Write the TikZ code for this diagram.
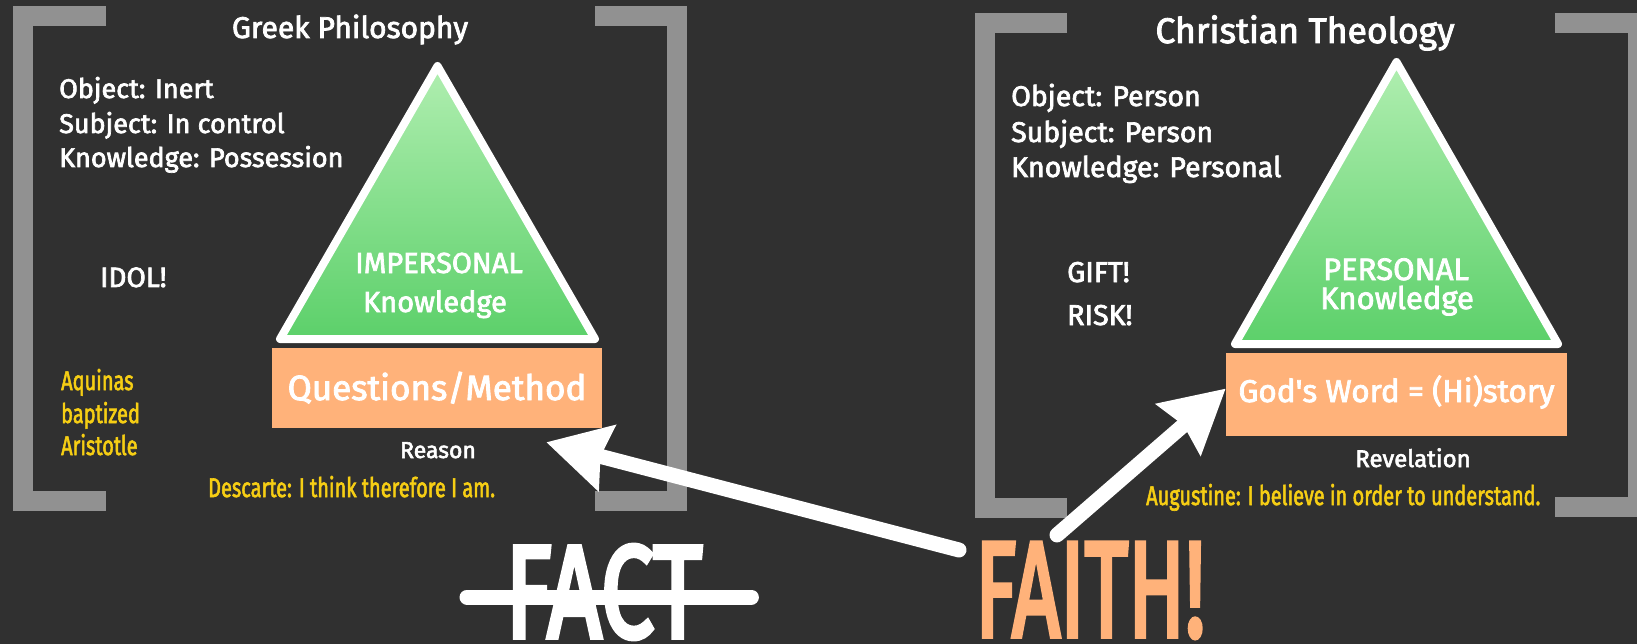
\documentclass[tikz,border=0pt]{standalone}
\usepackage{graphicx}
\usepackage{fontspec}
\setmainfont{Fira Sans}[FakeBold=2.5]
\newfontfamily\chalkfont{Fira Sans}[FakeBold=4]
\usetikzlibrary{arrows.meta}
\newcommand{\fsz}[1]{\fontsize{#1}{#1}\selectfont}
\newcommand{\scrawl}[1]{\scalebox{0.74}[1]{#1}}
\definecolor{board}{RGB}{48,48,48}
\definecolor{frame}{RGB}{145,145,145}
\definecolor{peach}{RGB}{255,178,122}
\definecolor{chalkyellow}{RGB}{246,206,20}
\definecolor{leaftop}{RGB}{176,238,176}
\definecolor{leafbot}{RGB}{92,208,106}
\tikzset{
  bracket/.style={draw=frame, line width=20pt},
  pyramid/.style={draw=white, line width=8pt, line join=round, top color=leaftop, bottom color=leafbot},
  basebox/.style={fill=peach, text=white, inner sep=0pt},
  txt/.style={text=white, inner sep=0pt},
  scribble/.style={text=chalkyellow, inner sep=0pt, font=\fsz{27}},
  bigarrow/.style={draw=white, line width=15pt, line cap=round, -{Stealth[length=62pt,width=66pt,inset=6pt]}},
}
\begin{document}
\begin{tikzpicture}[x=1pt,y=-1pt]
    \useasboundingbox (0,0) rectangle (1637,644);
    \fill[board] (0,0) rectangle (1637,644);

    \draw[bracket] (106,16) -- (23,16) -- (23,501) -- (106,501);
    \draw[bracket] (595,16) -- (677,16) -- (677,501) -- (595,501);
    \draw[bracket] (1067,23) -- (985,23) -- (985,508) -- (1067,508);
    \draw[bracket] (1555,23) -- (1638,23) -- (1638,507) -- (1555,507);

    % greek side
    \node[txt, anchor=base, font=\fsz{30}] (greek) at (350,38) {Greek Philosophy};
    \node[txt, anchor=base west, font=\fsz{27}] (obj1) at (59,98) {Object: Inert};
    \node[txt, anchor=base west, font=\fsz{27}] (subj1) at (59,133) {Subject: In control};
    \node[txt, anchor=base west, font=\fsz{27}] (know1) at (59,167) {Knowledge: Possession};
    \node[txt, anchor=base west, font=\fsz{28}] (idol) at (100,287) {IDOL!};
    \draw[pyramid] (437.5,66) -- (595,339) -- (280,339) -- cycle;
    \node[txt, anchor=base, font=\fsz{29}] (imp) at (439,273) {IMPERSONAL};
    \node[txt, anchor=base, font=\fsz{29}] (impk) at (435,312) {Knowledge};
    \node[basebox, minimum width=330pt, minimum height=80pt, text height=24pt, text depth=0pt, font=\fsz{35}] (qm) at (437,388) {Questions/Method};
    \node[txt, anchor=base, font=\fsz{23}] (reason) at (438,458) {Reason};
    \node[scribble, anchor=base west] (aquinas) at (61,390) {\scrawl{Aquinas}};
    \node[scribble, anchor=base west] (baptized) at (61,423) {\scrawl{baptized}};
    \node[scribble, anchor=base west] (aristotle) at (61,455) {\scrawl{Aristotle}};
    \node[scribble, anchor=base west] (descarte) at (208,497) {\scrawl{Descarte: I think therefore I am.}};

    % christian side
    \node[txt, anchor=base, font=\fsz{35.5}] (christ) at (1305,43) {Christian Theology};
    \node[txt, anchor=base west, font=\fsz{28.5}] (obj2) at (1011,106) {Object: Person};
    \node[txt, anchor=base west, font=\fsz{28.5}] (subj2) at (1011,142) {Subject: Person};
    \node[txt, anchor=base west, font=\fsz{28.5}] (know2) at (1011,177) {Knowledge: Personal};
    \node[txt, anchor=base west, font=\fsz{28.7}] (gift) at (1067,282) {GIFT!};
    \node[txt, anchor=base west, font=\fsz{28.7}] (risk) at (1067,325) {RISK!};
    \draw[pyramid] (1396.5,62) -- (1558,344) -- (1235,344) -- cycle;
    \node[txt, anchor=base, font=\fsz{31}] (pers) at (1396,280) {PERSONAL};
    \node[txt, anchor=base, font=\fsz{31}] (persk) at (1397,309) {Knowledge};
    \node[basebox, minimum width=341pt, minimum height=83pt, text height=15pt, text depth=0pt, font=\fsz{31.5}] (word) at (1396.5,394.5) {God\textquotesingle s Word = (Hi)story};
    \node[txt, anchor=base, font=\fsz{24}] (revel) at (1413,467) {Revelation};
    \node[scribble, anchor=base west] (augustine) at (1146,505) {\scrawl{Augustine: I believe in order to understand.}};

    % bottom
    \node[txt, anchor=south west] (fact) at (505,639) {\resizebox{197pt}{92pt}{\chalkfont\fsz{134}FACT}};
    \draw[white, line width=15pt, line cap=round] ([xshift=-38pt,yshift=-5pt]fact.west) -- ([xshift=49pt,yshift=-5pt]fact.east);
    \node[inner sep=0pt, text=peach, anchor=south west] (faith) at (975,638) {\resizebox{230pt}{93pt}{\chalkfont\fsz{135}FAITH!}};

    \coordinate (faith left) at ([xshift=-16pt,yshift=-7pt]faith.north west);
    \coordinate (faith top) at ([xshift=82pt,yshift=8pt]faith.north west);
    \draw[bigarrow] (faith left) -- ([xshift=-56pt,yshift=-14pt]qm.south east);
    \draw[bigarrow] (faith top) -- ([yshift=6pt]word.west);
\end{tikzpicture}
\end{document}
